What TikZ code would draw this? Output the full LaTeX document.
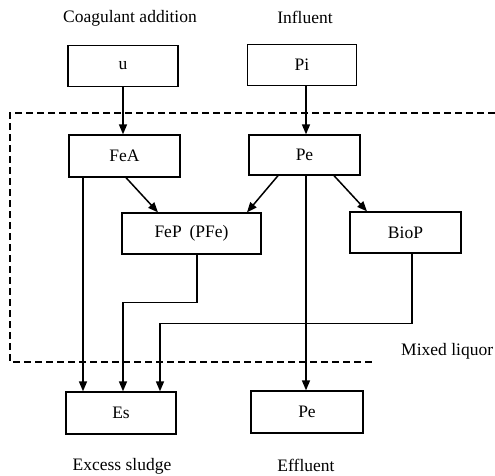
\documentclass[tikz,border=0pt]{standalone}
\usepackage{fontspec}
\setmainfont{Liberation Serif}
\usetikzlibrary{arrows.meta}
\begin{document}
\begin{tikzpicture}[x=1pt,y=-1pt,
  every node/.style={font=\fontsize{17.5}{20}\selectfont, inner sep=0pt},
  box/.style={draw, line width=1.3pt, minimum height=41pt},
  arr/.style={line width=1.5pt, -{Triangle[length=10pt,width=8pt]}},
  ln/.style={line width=1.5pt},
  dashbox/.style={line width=1.4pt, dash pattern=on 7pt off 4pt},
  lbl/.style={}]
\useasboundingbox (0,0) rectangle (495,475);
% boxes
\node[box, minimum width=110pt] (u) at (123,66) {u};
\node[box, minimum width=109pt] (Pi) at (302,65) {Pi};
\node[box, minimum width=111pt, minimum height=42pt] (FeA) at (124.5,156) {FeA};
\node[box, minimum width=111pt, minimum height=40pt] (Pe1) at (304.5,155) {Pe};
\node[box, minimum width=139pt] (FeP) at (191.5,233.5) {FeP\hspace{0.45em}(PFe)};
\node[box, minimum width=111pt] (BioP) at (405.5,232.5) {BioP};
\node[box, minimum width=110pt, minimum height=42pt] (Es) at (121,413) {Es};
\node[box, minimum width=112pt, minimum height=42pt] (Pe2) at (307,412) {Pe};
% labels
\node[lbl] (lc) at (130,18) {Coagulant addition};
\node[lbl] (li) at (305,17) {Influent};
\node[lbl, anchor=west] (lm) at (401,351) {Mixed liquor};
\node[lbl] (lx) at (122,466) {Excess sludge};
\node[lbl] (le) at (306,465) {Effluent};
% dashed region
\coordinate (d1) at (495,113);
\coordinate (d2) at (10,113);
\coordinate (d3) at (10,362);
\coordinate (d4) at (373,362);
\draw[dashbox] (d1) -- (d2) -- (d3) -- (d4);
% connectors
\draw[arr] (u.south) -- (u.south |- FeA.north);
\draw[arr] ([xshift=4pt]Pi.south) -- ([xshift=4pt]Pi.south |- Pe1.north);
\draw[arr] ([xshift=1.5pt]FeA.south) -- ([xshift=-33.5pt]FeP.north);
\draw[arr] ([xshift=-26.5pt]Pe1.south) -- ([xshift=55.5pt]FeP.north);
\draw[arr] ([xshift=29.5pt]Pe1.south) -- ([xshift=-38.5pt]BioP.north);
\draw[arr] ([xshift=-41.5pt]FeA.south) -- ([xshift=-41.5pt]FeA.south |- Es.north);
\draw[arr] ([xshift=1.5pt]Pe1.south) -- ([xshift=1.5pt]Pe1.south |- Pe2.north);
\draw[arr] ([xshift=5.5pt]FeP.south) -- ++(0,48) -| ([xshift=2pt]Es.north);
\draw[arr] ([xshift=6.5pt]BioP.south) -- ++(0,70) -| ([xshift=39pt]Es.north);
\end{tikzpicture}
\end{document}
